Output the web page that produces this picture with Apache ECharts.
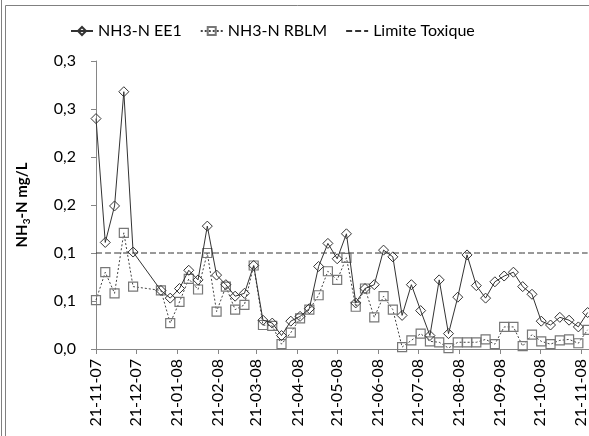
<!DOCTYPE html>
<html>
<head>
<meta charset="utf-8">
<script src="https://cdn.jsdelivr.net/npm/echarts@6/dist/echarts.min.js"></script>
<style>
  html, body { margin: 0; padding: 0; background: #fff; }
  #chart { width: 589px; height: 436px; }
</style>
</head>
<body>
<div id="chart"></div>
<script>
// weekly samples (Wednesdays)
const sampleDates = [
  '2007-11-21', '2007-11-28', '2007-12-05', '2007-12-12', '2007-12-19',
  '2008-01-09', '2008-01-16', '2008-01-23', '2008-01-30',
  '2008-02-06', '2008-02-13', '2008-02-20', '2008-02-27',
  '2008-03-05', '2008-03-12', '2008-03-19', '2008-03-26',
  '2008-04-02', '2008-04-09', '2008-04-16', '2008-04-23', '2008-04-30',
  '2008-05-07', '2008-05-14', '2008-05-21', '2008-05-28',
  '2008-06-04', '2008-06-11', '2008-06-18', '2008-06-25',
  '2008-07-02', '2008-07-09', '2008-07-16', '2008-07-23', '2008-07-30',
  '2008-08-06', '2008-08-13', '2008-08-20', '2008-08-27',
  '2008-09-03', '2008-09-10', '2008-09-17', '2008-09-24',
  '2008-10-01', '2008-10-08', '2008-10-15', '2008-10-22', '2008-10-29',
  '2008-11-05', '2008-11-12', '2008-11-19', '2008-11-26'
];

const ee1Values = [
  0.240, 0.111, 0.149, 0.268, 0.101,
  0.061, 0.053, 0.063, 0.082,
  0.072, 0.128, 0.077, 0.067,
  0.055, 0.058, 0.087, 0.030,
  0.027, 0.014, 0.029, 0.034, 0.042,
  0.086, 0.110, 0.094, 0.120,
  0.048, 0.063, 0.067, 0.103,
  0.096, 0.035, 0.067, 0.040, 0.014,
  0.072, 0.016, 0.054, 0.098,
  0.066, 0.053, 0.070, 0.076,
  0.080, 0.065, 0.057, 0.029, 0.025,
  0.033, 0.030, 0.023, 0.038
];

const rblmValues = [
  0.051, 0.080, 0.058, 0.121, 0.065,
  0.061, 0.027, 0.049, 0.073,
  0.062, 0.100, 0.039, 0.065,
  0.041, 0.046, 0.087, 0.025,
  0.024, 0.005, 0.017, 0.032, 0.041,
  0.056, 0.081, 0.072, 0.095,
  0.044, 0.063, 0.033, 0.055,
  0.041, 0.002, 0.009, 0.016, 0.008,
  0.007, 0.001, 0.007, 0.007,
  0.007, 0.010, 0.005, 0.023,
  0.023, 0.003, 0.015, 0.008, 0.005,
  0.009, 0.010, 0.006, 0.020
];

const limitValue = 0.1;

const xTickLabels = [
  '21-11-07', '21-12-07', '21-01-08', '21-02-08', '21-03-08', '21-04-08', '21-05-08',
  '21-06-08', '21-07-08', '21-08-08', '21-09-08', '21-10-08', '21-11-08'
];
const yTickLabels = ['0,0', '0,1', '0,1', '0,2', '0,2', '0,3', '0,3'];

const DAY = 86400000;
function isoToDay(s) {
  const [y, m, d] = s.split('-').map(Number);
  return Math.round(Date.UTC(y, m - 1, d) / DAY);
}
function tickToDay(s) {
  const [d, m, y] = s.split('-').map(Number);
  return Math.round(Date.UTC(2000 + y, m - 1, d) / DAY);
}

const days = sampleDates.map(isoToDay);
const tickDays = xTickLabels.map(tickToDay);
const xMax = isoToDay('2008-11-27');

const ee1Data = days.map((t, i) => [t, ee1Values[i]]);
const rblmData = days.map((t, i) => [t, rblmValues[i]]);
const limitData = days.map(t => [t, limitValue]);

const font = 'Lato';
const axisGrey = '#868686';

const chart = echarts.init(document.getElementById('chart'));

chart.setOption({
  animation: false,
  backgroundColor: '#fff',
  textStyle: { fontFamily: font },
  graphic: [
    { type: 'line', shape: { x1: 1.5, y1: 0, x2: 1.5, y2: 436 }, style: { stroke: '#808080', lineWidth: 1 } },
    { type: 'rect', shape: { x: 5.5, y: 5.5, width: 640, height: 480 }, style: { fill: 'none', stroke: '#808080', lineWidth: 1 } }
  ],
  legend: {
    left: 65,
    top: 18,
    itemWidth: 22,
    itemHeight: 10,
    itemGap: 18,
    textStyle: { fontFamily: font, fontSize: 16, color: '#000' },
    data: ['NH3-N EE1', 'NH3-N RBLM', 'Limite Toxique']
  },
  grid: { left: 96, top: 61, right: 0, bottom: 87 },
  xAxis: {
    type: 'value',
    min: tickDays[0],
    max: xMax,
    splitLine: { show: false },
    axisLine: { show: true, lineStyle: { color: axisGrey, width: 1 } },
    axisTick: { show: true, customValues: tickDays, length: 5, lineStyle: { color: axisGrey } },
    axisLabel: {
      customValues: tickDays,
      rotate: 90,
      margin: 10,
      fontFamily: font,
      fontSize: 16,
      color: '#000',
      formatter: v => {
        const i = tickDays.indexOf(v);
        return i >= 0 ? xTickLabels[i] : '';
      }
    }
  },
  yAxis: {
    type: 'value',
    min: 0,
    max: 0.3,
    interval: 0.05,
    name: '{b|NH}{s|3}{b|-N mg/L}',
    nameLocation: 'middle',
    nameGap: 64,
    nameTextStyle: {
      rich: {
        b: { fontFamily: font, fontSize: 15, fontWeight: 'bold', color: '#000', lineHeight: 20, verticalAlign: 'middle' },
        s: { fontFamily: font, fontSize: 10, fontWeight: 'bold', color: '#000', verticalAlign: 'bottom' }
      }
    },
    splitLine: { show: false },
    axisLine: { show: true, lineStyle: { color: axisGrey, width: 1 } },
    axisTick: { show: true, length: 5, lineStyle: { color: axisGrey } },
    axisLabel: {
      margin: 20,
      fontFamily: font,
      fontSize: 16,
      color: '#000',
      formatter: v => yTickLabels[Math.round(v / 0.05)]
    }
  },
  series: [
    {
      name: 'NH3-N EE1',
      type: 'line',
      data: ee1Data,
      symbol: 'diamond',
      symbolSize: 10,
      showAllSymbol: true,
      z: 3,
      lineStyle: { color: '#333', width: 1 },
      itemStyle: { color: 'rgba(255,255,255,0)', borderColor: '#333', borderWidth: 1 }
    },
    {
      name: 'NH3-N RBLM',
      type: 'line',
      data: rblmData,
      symbol: 'rect',
      symbolSize: 9,
      showAllSymbol: true,
      z: 2,
      lineStyle: { color: '#444', width: 1, type: [2, 2] },
      itemStyle: { color: 'rgba(255,255,255,0)', borderColor: '#777', borderWidth: 1.2 }
    },
    {
      name: 'Limite Toxique',
      type: 'line',
      data: limitData,
      symbol: 'none',
      z: 1,
      lineStyle: { color: '#333', width: 1, type: [6, 3] },
      itemStyle: { color: 'rgba(0,0,0,0)', borderColor: 'rgba(0,0,0,0)', borderWidth: 0 }
    }
  ]
});
</script>
</body>
</html>
